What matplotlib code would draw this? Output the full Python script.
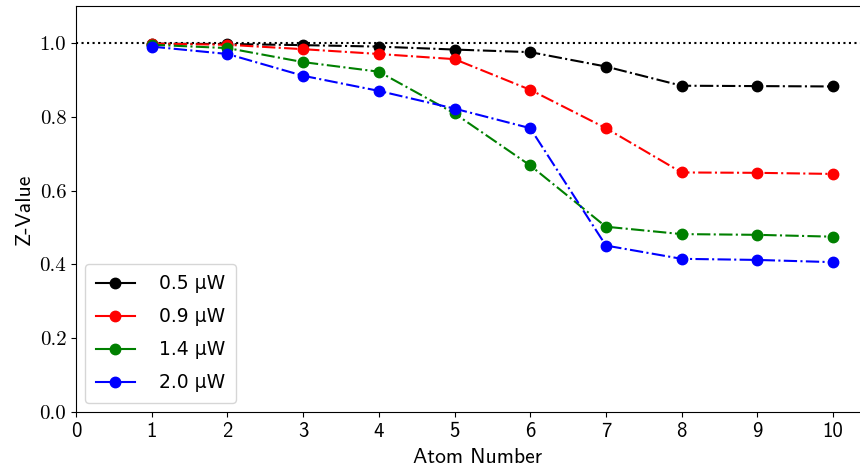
import numpy as np
import matplotlib
matplotlib.use("Agg")
import matplotlib.pyplot as plt
from matplotlib.lines import Line2D

atoms = [1, 2, 3, 4, 5, 6, 7, 8, 9, 10]
z_05 = [0.998, 0.997, 0.994, 0.990, 0.982, 0.975, 0.936, 0.884, 0.883, 0.882]
z_09 = [0.998, 0.995, 0.983, 0.970, 0.956, 0.873, 0.769, 0.649, 0.648, 0.645]
z_14 = [0.995, 0.986, 0.948, 0.922, 0.809, 0.668, 0.502, 0.482, 0.480, 0.475]
z_20 = [0.990, 0.970, 0.911, 0.870, 0.822, 0.769, 0.451, 0.415, 0.412, 0.406]
labels = ["0.5 μW", "0.9 μW", "1.4 μW", "2.0 μW"]
colors = ["black", "red", "green", "blue"]

fig = plt.figure(figsize=(8.6, 4.72), dpi=100)
# axes run past the right edge, as in the cropped original
ax = fig.add_axes([76 / 860, 60 / 472, (10.6 * 75.7) / 860, 406 / 472])

ax.axhline(1.0, color="black", linestyle=":", linewidth=1.5)
for z, lab, c in zip([z_05, z_09, z_14, z_20], labels, colors):
    ax.plot(atoms, z, linestyle="-.", marker="o", color=c, markersize=7.5,
            linewidth=1.5, label=lab)

ax.set_xlim(0, 10.6)
ax.set_ylim(0, 1.1)
ax.set_xticks(range(0, 11))
ax.set_yticks([0.0, 0.2, 0.4, 0.6, 0.8, 1.0])
ax.set_yticklabels(["0.0", "0.2", "0.4", "0.6", "0.8", "1.0"])
for t in ax.get_yticklabels():
    t.set_fontfamily("cmr10")
    t.set_fontsize(15)
for t in ax.get_xticklabels():
    t.set_fontfamily("cmss10")
    t.set_fontsize(15)

ax.set_xlabel("Atom Number", fontfamily="cmss10", fontsize=15.5, labelpad=5)
ax.set_ylabel("Z-Value", fontfamily="cmss10", fontsize=15.5, labelpad=4)

# legend keys drawn with solid lines, like the original
handles = [Line2D([], [], color=c, marker="o", markersize=7.5, linewidth=1.5)
           for c in colors]
ax.legend(handles, labels, loc="lower left", fontsize=13.5, handlelength=2.1,
          borderpad=0.55, labelspacing=0.75, handletextpad=1.3)

fig.savefig("out.png", dpi=100)
